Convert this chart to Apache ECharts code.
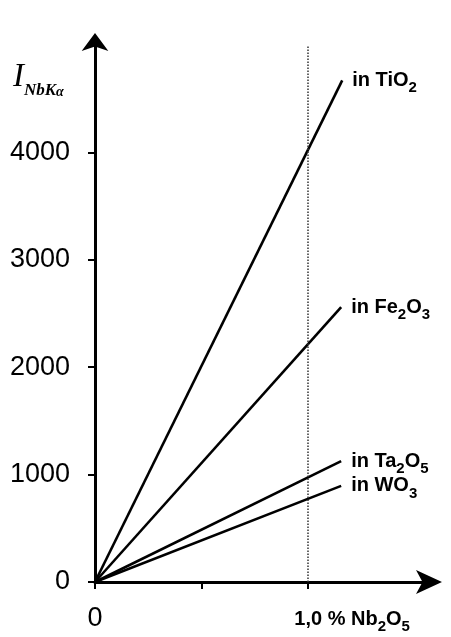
<!DOCTYPE html>
<html><head><meta charset="utf-8">
<script src="https://cdn.jsdelivr.net/npm/echarts@6/dist/echarts.min.js"></script>
<style>html,body{margin:0;padding:0;background:#fff}#c{width:451px;height:637px}</style>
</head><body><div id="c"></div>
<script>
// Data
const seriesNames = ['TiO2', 'Fe2O3', 'Ta2O5', 'WO3'];
const seriesLabels = ['{b|in TiO}{s|2}', '{b|in Fe}{s|2}{b|O}{s|3}', '{b|in Ta}{s|2}{b|O}{s|5}', '{b|in WO}{s|3}'];
const xStart = [0, 0, 0, 0];
const yStart = [0, 0, 0, 0];
const xEnd = [1.16, 1.155, 1.155, 1.155];
const yEnd = [4670, 2560, 1125, 895];
const xTickValues = [0, 0.5, 1.0];
const xLabelValues = [0, 1.0];
const yTickValues = [0, 1000, 2000, 3000, 4000];
const markX = 1.0;

const chart = echarts.init(document.getElementById('c'), null, {renderer: 'canvas'});
const NUM_FONT = '"Liberation Sans", Arial, sans-serif';
const labelRich = {
  b: {fontSize: 20, fontWeight: 'bold', fontFamily: NUM_FONT, color: '#000', lineHeight: 30},
  s: {fontSize: 15, fontWeight: 'bold', fontFamily: NUM_FONT, color: '#000', verticalAlign: 'bottom', lineHeight: 14}
};
const series = seriesNames.map((n, i) => ({
  name: n,
  type: 'line',
  data: [[xStart[i], yStart[i]], [xEnd[i], yEnd[i]]],
  symbol: 'none',
  lineStyle: {color: '#000', width: 2.6},
  silent: true,
  endLabel: {
    show: true,
    distance: 10,
    formatter: () => seriesLabels[i],
    rich: labelRich
  },
  markLine: i === 0 ? {
    silent: true,
    symbol: 'none',
    label: {show: false},
    lineStyle: {type: 'dotted', color: '#333', width: 1.5},
    data: [{xAxis: markX}]
  } : undefined
}));

chart.setOption({
  animation: false,
  backgroundColor: '#fff',
  grid: {left: 95, right: 15, top: 45, bottom: 55, containLabel: false},
  xAxis: {
    type: 'value', min: 0, max: 1.6, interval: 0.5,
    splitLine: {show: false},
    axisLine: {show: true, lineStyle: {color: '#000', width: 3}, symbol: ['none', 'arrow'], symbolSize: [18, 26], symbolOffset: [0, 6]},
    axisTick: {show: true, customValues: xTickValues, length: 7, lineStyle: {color: '#000', width: 2}},
    axisLabel: {
      customValues: xLabelValues,
      margin: 22,
      formatter: v => v === 0 ? '{z|0}' : '{sp|}{b|1,0 % Nb}{s|2}{b|O}{s|5}',
      rich: {
        z: {fontSize: 27, fontFamily: NUM_FONT, color: '#000', lineHeight: 30},
        sp: {width: 88, lineHeight: 30},
        b: {fontSize: 20, fontWeight: 'bold', fontFamily: NUM_FONT, color: '#000', lineHeight: 30},
        s: {fontSize: 15, fontWeight: 'bold', fontFamily: NUM_FONT, color: '#000', verticalAlign: 'bottom', lineHeight: 14}
      }
    }
  },
  yAxis: {
    type: 'value', min: 0, max: 5000, interval: 1000,
    splitLine: {show: false},
    axisLine: {show: true, lineStyle: {color: '#000', width: 3}, symbol: ['none', 'arrow'], symbolSize: [20, 18], symbolOffset: [0, 12]},
    axisTick: {show: true, customValues: yTickValues, length: 7, lineStyle: {color: '#000', width: 2}},
    axisLabel: {customValues: yTickValues, margin: 25, color: '#000', fontFamily: NUM_FONT, fontSize: 27, formatter: v => String(v)}
  },
  graphic: [{
    type: 'text', left: 13, top: 61,
    style: {
      text: '{I|I}{n|NbK}{a|α}',
      rich: {
        I: {fontFamily: '"Liberation Serif", serif', fontStyle: 'italic', fontSize: 33, lineHeight: 44, fill: '#000'},
        n: {fontFamily: '"Liberation Serif", serif', fontStyle: 'italic', fontWeight: 'bold', fontSize: 17, lineHeight: 16, verticalAlign: 'bottom', fill: '#000'},
        a: {fontFamily: '"Liberation Serif", serif', fontStyle: 'italic', fontWeight: 'bold', fontSize: 14, lineHeight: 4, verticalAlign: 'bottom', fill: '#000'}
      }
    }
  }],
  series: series
});
</script></body></html>
